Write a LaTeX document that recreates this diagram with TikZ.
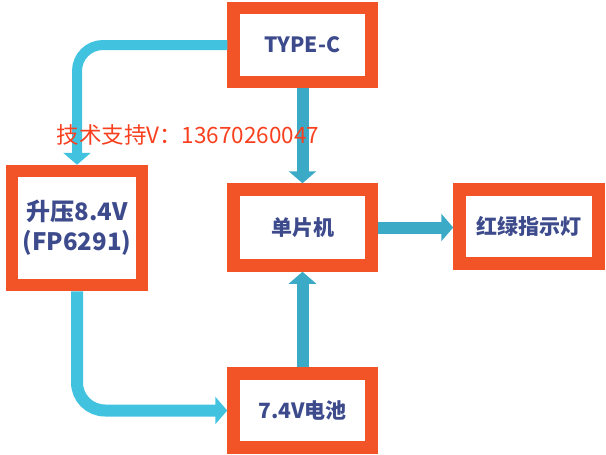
\documentclass[tikz,border=0pt]{standalone}
\usepackage{fontspec}
\setmainfont{Noto Sans CJK SC}
\usepackage{tikz}
\usetikzlibrary{arrows.meta}
\definecolor{boxorange}{HTML}{F25428}
\definecolor{boxtext}{HTML}{3D4B8C}
\definecolor{linkblue}{HTML}{41C3E0}
\definecolor{linkteal}{HTML}{3AAAC6}
\definecolor{notered}{HTML}{F8401F}

\begin{document}
\begin{tikzpicture}[x=1pt, y=-1pt, >={Triangle[length=12pt,width=27pt]},
  every node/.style={font=\fontsize{21pt}{30pt}\selectfont\bfseries, align=center, text=boxtext},
  block/.style={draw=boxorange, line width=12.5pt, fill=white, minimum width=138pt, minimum height=74pt, inner sep=0pt}]
  \useasboundingbox (0,0) rectangle (606,455);

  \node[block] (typec) at (302.5,45) {TYPE-C};
  \node[block, minimum width=130pt, minimum height=114pt, font=\fontsize{24pt}{30pt}\selectfont\bfseries] (boost) at (77,228) {升压8.4V\\(FP6291)};
  \node[block, minimum height=76pt] (mcu) at (302.5,227.5) {单片机};
  \node[block] (battery) at (302.5,410.5) {7.4V电池};
  \node[block, minimum width=139pt] (led) at (529,226.5) {红绿指示灯};

  \draw[linkblue, line width=10pt, rounded corners=26pt, ->] (typec.west) -| (boost.north);
  \draw[linkblue, line width=12pt, rounded corners=28pt, ->] (boost.south) |- (battery.west);
  \draw[linkteal, line width=12pt, ->] (typec.south) -- (mcu.north);
  \draw[linkteal, line width=12pt, ->] (battery.north) -- (mcu.south);
  \draw[linkteal, line width=12pt, ->] (mcu.east) -- (mcu.east -| led.west);

  \node[anchor=west, text=notered, font=\fontsize{22.5pt}{26pt}\selectfont] (contact) at (53,135) {技术支持V：13670260047};
\end{tikzpicture}
\end{document}
